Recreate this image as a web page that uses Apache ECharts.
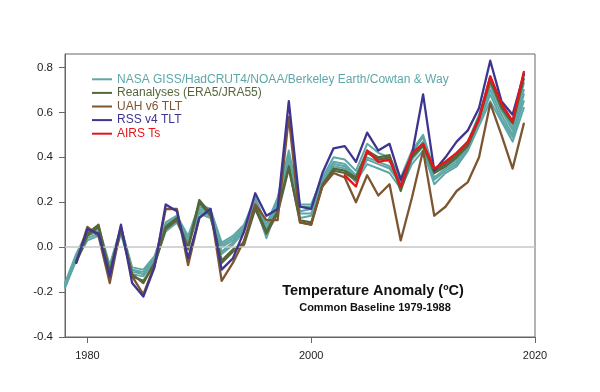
<!DOCTYPE html>
<html>
<head>
<meta charset="utf-8">
<script src="https://cdn.jsdelivr.net/npm/echarts@6/dist/echarts.min.js"></script>
<style>html,body{margin:0;padding:0;background:#fff}#c{width:600px;height:392px}</style>
</head>
<body>
<div id="c"></div>
<script>
// Years
const surfaceYears = [1978,1979,1980,1981,1982,1983,1984,1985,1986,1987,1988,1989,1990,1991,1992,1993,1994,1995,1996,1997,1998,1999,2000,2001,2002,2003,2004,2005,2006,2007,2008,2009,2010,2011,2012,2013,2014,2015,2016,2017,2018,2019];
const years = [1979,1980,1981,1982,1983,1984,1985,1986,1987,1988,1989,1990,1991,1992,1993,1994,1995,1996,1997,1998,1999,2000,2001,2002,2003,2004,2005,2006,2007,2008,2009,2010,2011,2012,2013,2014,2015,2016,2017,2018,2019];
const airsYears = [2003,2004,2005,2006,2007,2008,2009,2010,2011,2012,2013,2014,2015,2016,2017,2018,2019];

// Surface records (1978-2019)
const cowtanWay = [-0.16,-0.03,0.07,0.09,-0.08,0.09,-0.09,-0.10,-0.04,0.11,0.14,0.05,0.19,0.17,0.02,0.05,0.10,0.22,0.10,0.22,0.43,0.19,0.19,0.31,0.40,0.39,0.34,0.46,0.42,0.40,0.31,0.43,0.50,0.34,0.37,0.40,0.47,0.59,0.73,0.62,0.53,0.73];
const giss = [-0.17,-0.04,0.06,0.08,-0.09,0.08,-0.10,-0.11,-0.05,0.10,0.13,0.04,0.18,0.16,0.01,0.04,0.09,0.21,0.08,0.21,0.41,0.18,0.18,0.30,0.38,0.37,0.32,0.42,0.40,0.38,0.30,0.42,0.49,0.33,0.36,0.39,0.46,0.58,0.72,0.61,0.52,0.70];
const berkeley = [-0.17,-0.05,0.05,0.07,-0.09,0.08,-0.10,-0.12,-0.06,0.09,0.13,0.03,0.17,0.15,0.00,0.03,0.08,0.21,0.07,0.20,0.40,0.16,0.17,0.30,0.37,0.36,0.31,0.40,0.38,0.36,0.29,0.40,0.47,0.31,0.35,0.38,0.45,0.57,0.70,0.59,0.50,0.68];
const noaa = [-0.18,-0.05,0.04,0.06,-0.10,0.07,-0.11,-0.12,-0.06,0.08,0.12,0.02,0.16,0.14,-0.02,0.02,0.08,0.20,0.06,0.19,0.38,0.15,0.15,0.29,0.36,0.35,0.30,0.39,0.37,0.35,0.28,0.39,0.45,0.30,0.34,0.37,0.44,0.55,0.68,0.57,0.49,0.65];
const hadcrut4 = [-0.18,-0.06,0.03,0.05,-0.11,0.06,-0.12,-0.13,-0.07,0.07,0.11,0.01,0.15,0.13,-0.03,0.01,0.07,0.19,0.04,0.18,0.36,0.13,0.14,0.28,0.35,0.34,0.29,0.37,0.35,0.33,0.26,0.37,0.43,0.28,0.33,0.36,0.43,0.54,0.65,0.56,0.47,0.62];

// Reanalyses (1979-2019)
const era5 = [-0.06,0.06,0.10,-0.11,0.09,-0.12,-0.16,-0.07,0.09,0.13,0.00,0.21,0.15,-0.06,-0.01,0.02,0.18,0.07,0.16,0.36,0.11,0.10,0.28,0.35,0.34,0.31,0.43,0.40,0.41,0.26,0.41,0.46,0.34,0.37,0.41,0.46,0.58,0.76,0.63,0.56,0.77];
const jra55 = [-0.07,0.05,0.09,-0.12,0.08,-0.13,-0.15,-0.08,0.08,0.12,-0.01,0.20,0.14,-0.07,-0.02,0.01,0.17,0.06,0.15,0.35,0.12,0.11,0.27,0.34,0.33,0.30,0.42,0.39,0.40,0.25,0.40,0.45,0.33,0.36,0.40,0.45,0.57,0.74,0.62,0.55,0.75];

// Satellites (1979-2019)
const uah = [-0.07,0.09,0.05,-0.16,0.09,-0.13,-0.21,-0.08,0.17,0.17,-0.08,0.13,0.17,-0.15,-0.07,0.03,0.19,0.12,0.12,0.58,0.11,0.10,0.27,0.33,0.31,0.20,0.32,0.23,0.28,0.03,0.22,0.43,0.14,0.18,0.25,0.29,0.40,0.64,0.50,0.35,0.55];
const rss = [-0.07,0.08,0.06,-0.13,0.10,-0.16,-0.22,-0.09,0.19,0.16,-0.05,0.13,0.17,-0.10,-0.05,0.07,0.24,0.14,0.17,0.65,0.18,0.17,0.33,0.44,0.45,0.38,0.51,0.43,0.46,0.30,0.41,0.68,0.34,0.40,0.47,0.52,0.62,0.83,0.65,0.59,0.77];

// AIRS (2003-2019)
const airs = [0.32,0.27,0.43,0.38,0.39,0.27,0.42,0.46,0.35,0.38,0.42,0.47,0.57,0.76,0.64,0.56,0.78];

const xTicks = [1980, 2000, 2020];
const yTicks = [-0.4, -0.2, 0.0, 0.2, 0.4, 0.6, 0.8];

const NAME_SURF = 'NASA GISS/HadCRUT4/NOAA/Berkeley Earth/Cowtan & Way';
const NAME_REAN = 'Reanalyses (ERA5/JRA55)';
const NAME_UAH = 'UAH v6 TLT';
const NAME_RSS = 'RSS v4 TLT';
const NAME_AIRS = 'AIRS Ts';

const C_TEAL = '#5fa7a7', C_OLIVE = '#56663a', C_BROWN = '#7d5530', C_PURPLE = '#3d3590', C_RED = '#e3161b';

function pairs(xs, ys){ return xs.map((x,i)=>[x, ys[i]]); }
function line(name, xs, ys, color, z, w){
  return { name, type:'line', data: pairs(xs, ys), showSymbol:false, symbol:'none',
    lineStyle:{ color, width:w, join:'round', cap:'round' }, itemStyle:{ color }, z, silent:true, animation:false };
}

const series = [
  line(NAME_SURF, surfaceYears, hadcrut4, C_TEAL, 2, 2),
  line(NAME_SURF, surfaceYears, noaa, C_TEAL, 2, 2),
  line(NAME_SURF, surfaceYears, berkeley, C_TEAL, 2, 2),
  line(NAME_SURF, surfaceYears, giss, C_TEAL, 2, 2),
  line(NAME_SURF, surfaceYears, cowtanWay, C_TEAL, 2, 2),
  line(NAME_REAN, years, era5, C_OLIVE, 3, 2.2),
  line(NAME_REAN, years, jra55, C_OLIVE, 3, 2.2),
  line(NAME_UAH, years, uah, C_BROWN, 4, 2.3),
  line(NAME_RSS, years, rss, C_PURPLE, 5, 2.3),
  line(NAME_AIRS, airsYears, airs, C_RED, 6, 2.4)
];
series[0].markLine = { silent:true, symbol:'none', label:{show:false}, animation:false,
  lineStyle:{ color:'#c6c6c6', width:1.5, type:'solid' }, data:[{ yAxis: 0 }] };
series[0].z = 1;

const chart = echarts.init(document.getElementById('c'), null, {renderer:'canvas'});
chart.setOption({
  animation:false,
  backgroundColor:'#fff',
  grid:{ left:65, right:65, top:54, bottom:55, show:true, borderColor:'#666', borderWidth:1, backgroundColor:'transparent' },
  xAxis:{ type:'value', min:1978, max:2020,
    axisLine:{ show:true, onZero:false, lineStyle:{ color:'#666', width:1 } },
    axisTick:{ show:true, length:6, lineStyle:{ color:'#666' }, customValues: xTicks },
    axisLabel:{ customValues: xTicks, color:'#222', fontSize:11, margin:13, fontFamily:'Liberation Sans, Arial, sans-serif',
      formatter: v => String(v) },
    splitLine:{ show:false } },
  yAxis:{ type:'value', min:-0.4, max:0.86,
    axisLine:{ show:true, onZero:false, lineStyle:{ color:'#666', width:1 } },
    axisTick:{ show:true, length:6, lineStyle:{ color:'#666' }, customValues: yTicks },
    axisLabel:{ customValues: yTicks, color:'#222', fontSize:11.5, margin:12, fontFamily:'Liberation Sans, Arial, sans-serif',
      formatter: v => v.toFixed(1) },
    splitLine:{ show:false } },
  legend:{ show:true, orient:'vertical', left:87, top:67.5, itemGap:0, itemWidth:20, itemHeight:2, icon:'rect',
    selectedMode:false,
    textStyle:{ fontSize:12, fontFamily:'Liberation Sans, Arial, sans-serif', lineHeight:13.6 },
    data:[
      { name:NAME_SURF, textStyle:{ color:C_TEAL }, itemStyle:{ color:C_TEAL } },
      { name:NAME_REAN, textStyle:{ color:C_OLIVE }, itemStyle:{ color:C_OLIVE } },
      { name:NAME_UAH, textStyle:{ color:C_BROWN }, itemStyle:{ color:C_BROWN } },
      { name:NAME_RSS, textStyle:{ color:C_PURPLE }, itemStyle:{ color:C_PURPLE } },
      { name:NAME_AIRS, textStyle:{ color:C_RED }, itemStyle:{ color:C_RED } }
    ] },
  graphic:[
    { type:'text', style:{ text:'Temperature Anomaly (ºC)', x:373, y:291, align:'center', verticalAlign:'middle',
      font:'bold 14.5px "Liberation Sans", Arial, sans-serif', fill:'#111' } },
    { type:'text', style:{ text:'Common Baseline 1979-1988', x:375, y:307.5, align:'center', verticalAlign:'middle',
      font:'bold 11px "Liberation Sans", Arial, sans-serif', fill:'#111' } }
  ],
  series
});
</script>
</body>
</html>
